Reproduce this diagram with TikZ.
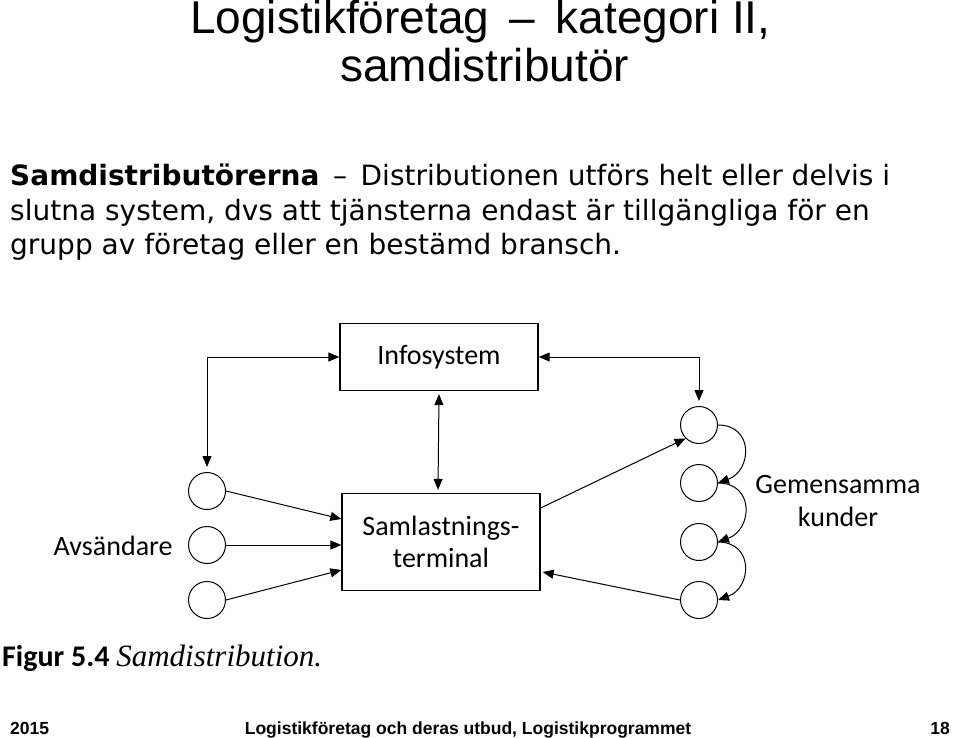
\documentclass[tikz,border=0pt]{standalone}
\usepackage{fontspec}
\setmainfont{Liberation Sans}
\newfontfamily\verd{DejaVu Sans}
\newfontfamily\carl{Carlito}
\newfontfamily\tms{Liberation Serif}
\usetikzlibrary{arrows.meta,calc}
\begin{document}
\begin{tikzpicture}[x=1pt,y=-1pt,
  box/.style={draw,line width=1.3pt,minimum width=198pt,inner sep=0pt,font=\carl\fontsize{28}{32}\selectfont,align=center},
  circ/.style={draw,line width=1pt,circle,minimum size=37pt,inner sep=0pt},
  lbl/.style={font=\carl\fontsize{28}{33}\selectfont,align=center},
  ar/.style={line width=1pt,-{Triangle[length=11pt,width=9pt]}},
  dar/.style={line width=1pt,{Triangle[length=11pt,width=9pt]}-{Triangle[length=11pt,width=9pt]}}]
\useasboundingbox (0,0) rectangle (960,738);
\node[anchor=base west,inner sep=0pt,font=\fontsize{46}{50}\selectfont] (t1) at (190,34) {Logistikföretag \,–\, kategori II,};
\node[anchor=base west,inner sep=0pt,font=\fontsize{46}{50}\selectfont] (t2) at (340,82) {samdistributör};
\node[anchor=north west,inner sep=0pt,font=\verd\fontsize{28}{34.5}\selectfont,align=left] (body) at (10,164)
 {\textbf{Samdistributörerna} \,–\, Distributionen utförs helt eller delvis i\\slutna system, dvs att tjänsterna endast är tillgängliga för en\\grupp av företag eller en bestämd bransch.};
\node[box,minimum height=67pt] (info) at (439,357) {Infosystem};
\node[box,minimum height=97pt] (term) at (441,542) {Samlastnings-\\terminal};
\node[circ] (l1) at (207,491) {};
\node[circ] (l2) at (207,545) {};
\node[circ] (l3) at (207,600) {};
\node[circ] (r1) at (699,425) {};
\node[circ] (r2) at (699,483) {};
\node[circ] (r3) at (699,542) {};
\node[circ] (r4) at (699,600) {};
\node[lbl,anchor=east] (avs) at (176,546) {Avsändare};
\node[lbl] (gem) at (838,501) {Gemensamma\\kunder};
\draw[dar] ($(l1.north)+(0,-5)$) |- (info.west);
\draw[dar] ($(r1.north)+(0,-5)$) |- (info.east);
\draw[dar] ($(info.south)+(0,3)$) -- ($(term.north)+(-3,-3)$);
\draw[ar] (l1.east) -- (term.west |- 0,519);
\draw[ar] (l2.east) -- (term.west |- 0,545);
\draw[ar] (l3.east) -- (term.west |- 0,570);
\draw[ar] (term.east |- 0,508) -- (r1.south west);
\draw[ar] (r4.west) -- ($(term.east |- 0,572)+(2,0)$);
\draw[ar] (r1.east) to[out=0,in=20,looseness=1.6] (r2.east);
\draw[ar] (r2.east) to[out=0,in=20,looseness=1.6] (r3.east);
\draw[ar] (r3.east) to[out=0,in=20,looseness=1.6] (r4.east);
\node[anchor=base west,inner sep=0pt] (cap) at (2,666) {{\carl\bfseries\fontsize{30}{34}\selectfont Figur 5.4 }{\tms\itshape\fontsize{31}{34}\selectfont Samdistribution.}};
\node[anchor=base west,inner sep=0pt,font=\bfseries\fontsize{17.5}{20}\selectfont] (f1) at (10,734) {2015};
\node[anchor=base,inner sep=0pt,font=\bfseries\fontsize{17.5}{20}\selectfont] (f2) at (468,734) {Logistikföretag och deras utbud, Logistikprogrammet};
\node[anchor=base east,inner sep=0pt,font=\bfseries\fontsize{17.5}{20}\selectfont] (f3) at (950,734) {18};
\end{tikzpicture}
\end{document}
